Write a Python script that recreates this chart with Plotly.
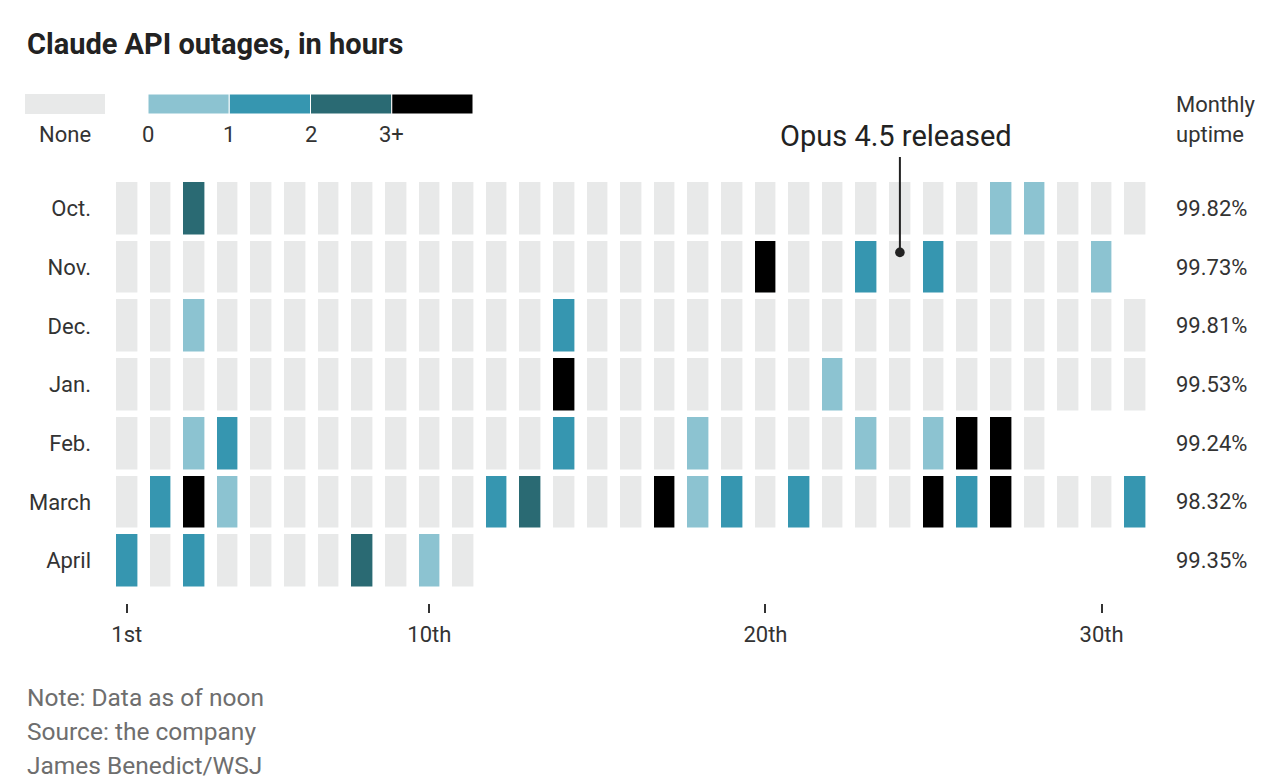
import plotly.graph_objects as go

months = ["Oct.", "Nov.", "Dec.", "Jan.", "Feb.", "March", "April"]
uptime = ["99.82%", "99.73%", "99.81%", "99.53%", "99.24%", "98.32%", "99.35%"]
days = list(range(1, 32))

# outage level per day: 0 none, 1 = 0-1h, 2 = 1-2h, 3 = 2-3h, 4 = 3h+
oct_lvl = [0,0,3,0,0,0,0,0,0,0, 0,0,0,0,0,0,0,0,0,0, 0,0,0,0,0,0,1,1,0,0, 0]
nov_lvl = [0,0,0,0,0,0,0,0,0,0, 0,0,0,0,0,0,0,0,0,4, 0,0,2,0,2,0,0,0,0,1]
dec_lvl = [0,0,1,0,0,0,0,0,0,0, 0,0,0,2,0,0,0,0,0,0, 0,0,0,0,0,0,0,0,0,0, 0]
jan_lvl = [0,0,0,0,0,0,0,0,0,0, 0,0,0,4,0,0,0,0,0,0, 0,1,0,0,0,0,0,0,0,0, 0]
feb_lvl = [0,0,1,2,0,0,0,0,0,0, 0,0,0,2,0,0,0,1,0,0, 0,0,1,0,1,4,4,0]
mar_lvl = [0,2,4,1,0,0,0,0,0,0, 0,2,3,0,0,0,4,1,2,0, 2,0,0,0,4,2,4,0,0,0, 2]
apr_lvl = [2,0,2,0,0,0,0,3,0,1, 0]

legend_labels = ["0", "1", "2", "3+"]
tick_days = [1, 10, 20, 30]
tick_text = ["1st", "10th", "20th", "30th"]
release_day = 24  # Opus 4.5, Nov. 24

GRAY = "#e8e9e9"
LIGHT = "#8cc3d1"
MED = "#3696b0"
DARK = "#2a6a73"
BLACK = "#000000"
colors = [GRAY, LIGHT, MED, DARK, BLACK]

rows = [oct_lvl, nov_lvl, dec_lvl, jan_lvl, feb_lvl, mar_lvl, apr_lvl]
z = [r + [None] * (31 - len(r)) for r in rows]

cscale = []
for i, c in enumerate(colors):
    cscale.append([i / 5, c])
    cscale.append([(i + 1) / 5, c])

W, H = 1274, 784
L, R, T, B = 110, 122, 179, 181
FONT = "Roboto, sans-serif"


def px(x):
    return (x - L) / (W - L - R)


def py(y):
    return 1 - (y - T) / (H - T - B)


fig = go.Figure(go.Heatmap(
    z=z, x=days, y=months,
    zmin=0, zmax=4, colorscale=cscale, showscale=False,
    xgap=12.6, ygap=6.5, hoverinfo="skip",
))

fig.update_xaxes(
    range=[0.5, 31.5], tickvals=tick_days, ticktext=tick_text,
    ticks="outside", ticklen=9, tickwidth=1.5, tickcolor="#333",
    showgrid=False, zeroline=False, showline=False, ticklabelstandoff=3,
    tickfont=dict(family=FONT, size=22, color="#333"),
)
fig.update_yaxes(
    type="category", categoryorder="array", categoryarray=months,
    range=[6.72, -0.5], showgrid=False, zeroline=False, ticks="",
    ticklabelstandoff=18,
    tickfont=dict(family=FONT, size=22, color="#333"),
)

ann = []
ann.append(dict(text="<b>Claude API outages, in hours</b>", x=px(25), y=py(44),
                xanchor="left", yanchor="middle", showarrow=False,
                font=dict(family=FONT, size=29, color="#222")))

# legend
shapes = [dict(type="rect", xref="paper", yref="paper", x0=px(25), x1=px(105),
               y0=py(114), y1=py(94), fillcolor=GRAY, line=dict(width=0))]
ann.append(dict(text="None", x=px(65), y=py(135), xanchor="center", yanchor="middle",
                showarrow=False, font=dict(family=FONT, size=22, color="#333")))
seg = 81.25
for i, c in enumerate(colors[1:]):
    x0 = 148 + i * seg
    shapes.append(dict(type="rect", xref="paper", yref="paper", x0=px(x0), x1=px(x0 + seg),
                       y0=py(114), y1=py(94), fillcolor=c, line=dict(width=1, color="white")))
    ann.append(dict(text=legend_labels[i], x=px(x0), y=py(135), xanchor="center",
                    yanchor="middle", showarrow=False,
                    font=dict(family=FONT, size=22, color="#333")))

# monthly uptime column
for t, y in [("Monthly", 104), ("uptime", 135)]:
    ann.append(dict(text=t, x=px(1174), y=py(y), xanchor="left", yanchor="middle",
                    showarrow=False, font=dict(family=FONT, size=22, color="#333")))
for m, u in zip(months, uptime):
    ann.append(dict(text=u, x=px(1174), xref="paper", y=m, yref="y", xanchor="left",
                    yanchor="middle", showarrow=False,
                    font=dict(family=FONT, size=22, color="#333")))

# Opus 4.5 callout: leader line with dot, then the label above it
ann.append(dict(text="", x=release_day, y=0.75, xref="x", yref="y",
                ax=0, ay=-97, showarrow=True, arrowhead=6, arrowsize=1.2,
                arrowwidth=2, arrowcolor="#222"))
ann.append(dict(text="Opus 4.5 released", x=px(896), y=py(136), xanchor="center",
                yanchor="middle", showarrow=False,
                font=dict(family=FONT, size=29, color="#222")))

# footer
for t, y in [("Note: Data as of noon", 697), ("Source: the company", 731),
             ("James Benedict/WSJ", 765)]:
    ann.append(dict(text=t, x=px(25), y=py(y), xanchor="left", yanchor="middle",
                    showarrow=False, font=dict(family=FONT, size=24.5, color="#6e6e6e")))

for a in ann:
    a.setdefault("xref", "paper")
    a.setdefault("yref", "paper")

fig.update_layout(
    width=W, height=H, margin=dict(l=L, r=R, t=T, b=B),
    plot_bgcolor="white", paper_bgcolor="white",
    annotations=ann, shapes=shapes, showlegend=False,
)

fig.write_html("out.html", config={"displayModeBar": False},
               post_script="document.body.style.margin='0';")
